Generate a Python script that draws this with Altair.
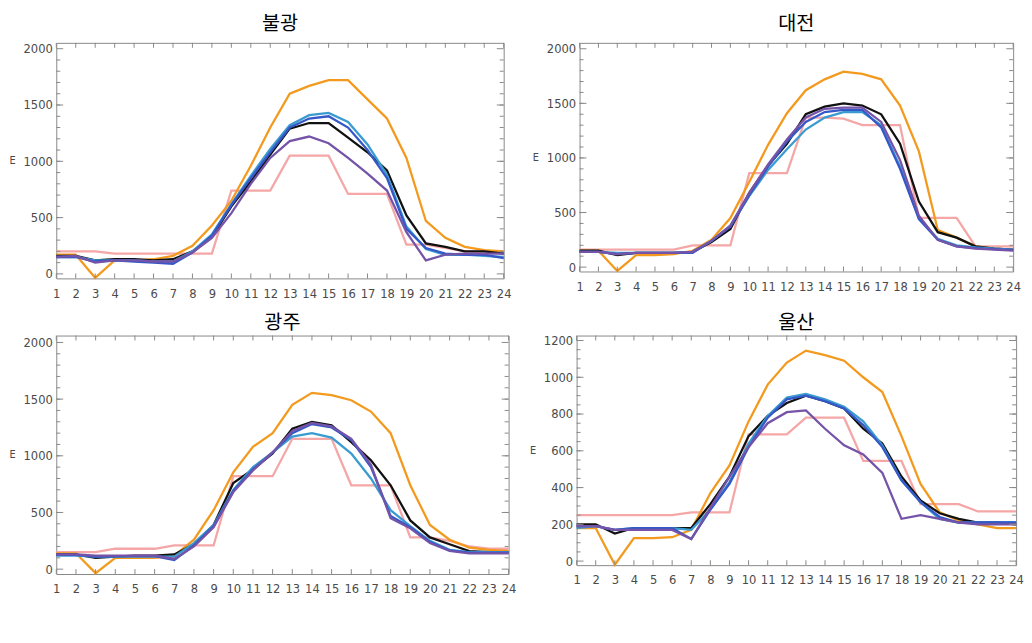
import altair as alt
import pandas as pd

HOURS = list(range(1, 25))
SERIES = ["S1", "S2", "S3", "S4", "S5", "S6"]
COLORS = ["#F5A6A6", "#F39A1E", "#111111", "#3B9BD0", "#3558C8", "#7453A8"]
TITLES = ["불광", "대전", "광주", "울산"]

# 불광
BUL_PINK = [200, 200, 200, 180, 180, 180, 180, 180, 180, 740, 740, 740, 1050, 1050, 1050, 710, 710, 710, 260, 260, 230, 200, 200, 200]
BUL_ORANGE = [170, 170, -35, 120, 120, 130, 160, 250, 430, 650, 960, 1300, 1600, 1670, 1720, 1720, 1550, 1380, 1030, 470, 320, 240, 210, 200]
BUL_BLACK = [160, 160, 120, 130, 130, 120, 130, 200, 330, 600, 820, 1060, 1290, 1340, 1340, 1210, 1080, 920, 520, 270, 240, 200, 200, 180]
BUL_CYAN = [150, 150, 120, 120, 120, 110, 110, 200, 350, 620, 870, 1110, 1320, 1410, 1430, 1350, 1150, 880, 420, 220, 170, 170, 160, 150]
BUL_BLUE = [150, 150, 110, 120, 110, 100, 90, 190, 340, 610, 850, 1080, 1300, 1380, 1400, 1300, 1100, 850, 400, 230, 180, 170, 170, 140]
BUL_PURPLE = [150, 160, 100, 120, 120, 110, 110, 190, 320, 540, 800, 1030, 1180, 1220, 1160, 1030, 890, 740, 370, 120, 170, 180, 180, 180]

# 대전
DAE_PINK = [160, 160, 160, 160, 160, 160, 200, 200, 200, 860, 860, 860, 1370, 1370, 1360, 1300, 1300, 1300, 450, 450, 450, 190, 190, 190]
DAE_ORANGE = [150, 150, -35, 110, 110, 120, 150, 250, 450, 780, 1120, 1410, 1620, 1720, 1790, 1770, 1720, 1480, 1060, 340, 270, 190, 170, 160]
DAE_BLACK = [150, 150, 110, 130, 130, 130, 140, 230, 350, 680, 930, 1130, 1400, 1470, 1500, 1480, 1400, 1130, 600, 320, 270, 190, 170, 160]
DAE_CYAN = [140, 140, 130, 130, 130, 130, 140, 240, 380, 650, 890, 1080, 1260, 1370, 1420, 1420, 1300, 920, 450, 260, 200, 180, 170, 160]
DAE_BLUE = [140, 140, 120, 130, 130, 130, 130, 240, 370, 660, 920, 1150, 1330, 1420, 1440, 1440, 1280, 900, 440, 250, 190, 175, 165, 155]
DAE_PURPLE = [140, 140, 120, 130, 130, 130, 140, 240, 380, 680, 940, 1170, 1370, 1450, 1460, 1460, 1330, 980, 470, 250, 190, 170, 160, 150]

# 광주
GWA_PINK = [150, 150, 150, 180, 180, 180, 210, 210, 210, 820, 820, 820, 1150, 1150, 1150, 740, 740, 740, 280, 280, 250, 200, 180, 180]
GWA_ORANGE = [140, 140, -35, 100, 100, 100, 120, 260, 520, 855, 1080, 1200, 1450, 1555, 1535, 1490, 1390, 1200, 740, 390, 260, 190, 170, 160]
GWA_BLACK = [130, 130, 100, 110, 120, 120, 130, 220, 390, 760, 880, 1020, 1240, 1300, 1270, 1120, 960, 740, 430, 280, 220, 160, 150, 150]
GWA_CYAN = [120, 120, 110, 110, 110, 110, 110, 230, 390, 700, 900, 1030, 1170, 1200, 1160, 1020, 800, 520, 380, 250, 170, 150, 150, 150]
GWA_BLUE = [125, 125, 110, 115, 115, 115, 80, 210, 380, 690, 880, 1030, 1200, 1280, 1250, 1140, 900, 470, 370, 240, 165, 145, 145, 145]
GWA_PURPLE = [130, 130, 120, 120, 120, 120, 90, 200, 370, 680, 870, 1030, 1220, 1290, 1260, 1150, 920, 450, 360, 230, 160, 140, 140, 140]

# 울산
ULS_PINK = [250, 250, 250, 250, 250, 250, 265, 265, 265, 690, 690, 690, 780, 780, 780, 545, 545, 545, 310, 310, 310, 270, 270, 270]
ULS_ORANGE = [180, 180, -20, 125, 125, 130, 170, 370, 520, 760, 960, 1080, 1145, 1120, 1090, 1000, 920, 680, 420, 265, 220, 200, 180, 180]
ULS_BLACK = [200, 200, 150, 180, 180, 180, 180, 310, 460, 680, 790, 860, 900, 870, 830, 720, 640, 460, 330, 260, 230, 210, 210, 200]
ULS_CYAN = [180, 190, 170, 180, 180, 180, 170, 280, 430, 640, 790, 890, 910, 880, 840, 760, 630, 440, 320, 230, 210, 210, 210, 210]
ULS_BLUE = [190, 190, 170, 180, 180, 180, 120, 280, 420, 620, 780, 880, 900, 870, 830, 740, 620, 440, 320, 240, 210, 210, 210, 210]
ULS_PURPLE = [190, 190, 170, 170, 170, 170, 120, 290, 460, 620, 750, 810, 820, 720, 630, 580, 480, 230, 250, 230, 210, 200, 200, 200]

PANEL_VALUES = [
    [BUL_PINK, BUL_ORANGE, BUL_BLACK, BUL_CYAN, BUL_BLUE, BUL_PURPLE],
    [DAE_PINK, DAE_ORANGE, DAE_BLACK, DAE_CYAN, DAE_BLUE, DAE_PURPLE],
    [GWA_PINK, GWA_ORANGE, GWA_BLACK, GWA_CYAN, GWA_BLUE, GWA_PURPLE],
    [ULS_PINK, ULS_ORANGE, ULS_BLACK, ULS_CYAN, ULS_BLUE, ULS_PURPLE],
]

Y_DOMAINS = [[-40, 2052], [-40, 2054], [-43, 2061], [-22, 1227]]
Y_MAJOR = [[0, 500, 1000, 1500, 2000]] * 3 + [[0, 200, 400, 600, 800, 1000, 1200]]
Y_MINOR = [list(range(100, 2000, 100))] * 3 + [list(range(50, 1200, 50))]
SIZES = [(454, 239), (440, 232), (459, 242), (446, 233)]
TITLE_OFFSETS = [9, 9, 2, 2]

LABEL_FONT = "Liberation Sans Narrow, DejaVu Sans Condensed, Liberation Sans"
TICK_COLOR = "#888888"


def panel(i):
    w, h = SIZES[i]
    rows = []
    for s, vals in zip(SERIES, PANEL_VALUES[i]):
        for hr, v in zip(HOURS, vals):
            rows.append({"hour": hr, "E": v, "series": s})
    df = pd.DataFrame(rows)

    xsc = alt.Scale(domain=[1, 24], nice=False, zero=False)
    ysc = alt.Scale(domain=Y_DOMAINS[i], nice=False, zero=False)
    csc = alt.Scale(domain=SERIES, range=COLORS)

    xax = alt.Axis(values=HOURS, ticks=False, tickSize=0, domain=False, grid=False,
                   labelPadding=9, labelFontSize=13, labelColor="#4a4a4a", labelFont=LABEL_FONT,
                   labelFlush=False, labelOverlap=False, title=None)
    yax = alt.Axis(values=Y_MAJOR[i], format="d", ticks=False, tickSize=0, domain=False, grid=False,
                   labelPadding=4, labelFontSize=13, labelColor="#4a4a4a", labelFont=LABEL_FONT,
                   labelOverlap=False, title="E", titleFontSize=11, titleFontWeight="normal",
                   titleColor="#4a4a4a", titlePadding=11, titleFont=LABEL_FONT, titleAngle=0,
                   titleBaseline="middle")

    layers = []
    for k, s in enumerate(SERIES):
        layers.append(
            alt.Chart(df).transform_filter(alt.datum.series == s).mark_line(strokeWidth=2.3).encode(
                x=alt.X("hour:Q", scale=xsc, axis=xax),
                y=alt.Y("E:Q", scale=ysc, axis=yax),
                color=alt.Color("series:N", scale=csc, legend=None),
            )
        )

    ymaj = pd.DataFrame({"E": Y_MAJOR[i]})
    ymin = pd.DataFrame({"E": Y_MINOR[i]})
    xt = pd.DataFrame({"hour": HOURS})
    for d, ln in ((ymaj, 7), (ymin, 4)):
        layers.append(alt.Chart(d).mark_rule(color=TICK_COLOR, strokeWidth=1).encode(
            y=alt.Y("E:Q", scale=ysc, axis=yax), x=alt.value(0), x2=alt.value(ln)))
        layers.append(alt.Chart(d).mark_rule(color=TICK_COLOR, strokeWidth=1).encode(
            y=alt.Y("E:Q", scale=ysc, axis=yax), x=alt.value(w), x2=alt.value(w - ln)))
    layers.append(alt.Chart(xt).mark_rule(color=TICK_COLOR, strokeWidth=1).encode(
        x=alt.X("hour:Q", scale=xsc, axis=xax), y=alt.value(h), y2=alt.value(h - 5)))
    layers.append(alt.Chart(xt).mark_rule(color=TICK_COLOR, strokeWidth=1).encode(
        x=alt.X("hour:Q", scale=xsc, axis=xax), y=alt.value(0), y2=alt.value(5)))

    return alt.layer(*layers).properties(
        width=w, height=h,
        title=alt.TitleParams(TITLES[i], font="Noto Sans CJK KR", fontSize=20, fontWeight="normal",
                              color="#000000", offset=TITLE_OFFSETS[i], anchor="middle"),
    )


row1 = alt.hconcat(panel(0), panel(1), spacing=20)
row2 = alt.hconcat(panel(2), panel(3), spacing=12)
chart = alt.vconcat(row1, row2, spacing=11).properties(
    padding={"left": 0, "top": 1, "right": 0, "bottom": 0}
).configure_view(stroke="#888888", strokeWidth=1)

chart.save("out.html", embed_options={"renderer": "svg", "actions": False})
